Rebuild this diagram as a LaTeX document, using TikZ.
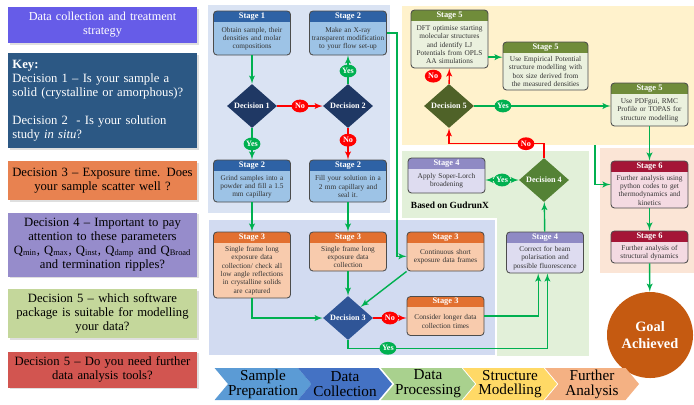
\documentclass[tikz,border=0pt]{standalone}
\usepackage{fontspec}
\setmainfont{Liberation Serif}
\usepackage{tikz}
\usetikzlibrary{positioning,arrows,calc,shapes.geometric,shapes.symbols,shadows}
\definecolor{titleblue}{RGB}{102,92,232}
\definecolor{keyblue}{RGB}{44,88,132}
\definecolor{keyorange}{RGB}{232,130,80}
\definecolor{keylav}{RGB}{150,140,203}
\definecolor{keygreen}{RGB}{196,215,155}
\definecolor{keyred}{RGB}{210,85,80}
\definecolor{panA}{RGB}{218,227,243}
\definecolor{panB}{RGB}{210,219,241}
\definecolor{panC}{RGB}{255,242,204}
\definecolor{panD}{RGB}{226,240,217}
\definecolor{panE}{RGB}{251,229,214}
\definecolor{headblue}{RGB}{46,98,165}
\definecolor{bodyblue}{RGB}{157,195,230}
\definecolor{headorange}{RGB}{226,112,48}
\definecolor{bodyorange}{RGB}{248,203,173}
\definecolor{headlav}{RGB}{143,138,196}
\definecolor{bodylav}{RGB}{222,220,240}
\definecolor{headolive}{RGB}{112,140,58}
\definecolor{bodyolive}{RGB}{235,241,222}
\definecolor{headcrimson}{RGB}{165,22,55}
\definecolor{bodypink}{RGB}{244,218,226}
\definecolor{decnavy}{RGB}{31,56,100}
\definecolor{decblue}{RGB}{47,85,151}
\definecolor{decgreen}{RGB}{84,130,53}
\definecolor{decolive}{RGB}{79,98,40}
\definecolor{goalorange}{RGB}{197,90,17}
\definecolor{arrowgreen}{RGB}{0,176,80}
\definecolor{arrowred}{RGB}{255,0,0}
\definecolor{chevA}{RGB}{91,155,213}
\definecolor{chevB}{RGB}{68,114,196}
\definecolor{chevC}{RGB}{169,209,142}
\definecolor{chevD}{RGB}{255,217,102}
\definecolor{chevE}{RGB}{244,177,131}
\tikzset{
    keybox/.style = {
        shape=rectangle,
        minimum width=4.725cm,
        text width=4.7cm,
        inner sep=0pt,
        align=center,
        font=\fontsize{9}{10}\selectfont,
        drop shadow={opacity=0.25,shadow xshift=0.04cm,shadow yshift=-0.04cm}
    },
    stagebox/.style n args={3}{
        shape=rectangle,
        draw=black!70,
        line width=0.6pt,
        rounded corners=2.5pt,
        fill=#2,
        minimum width=1.925cm,
        text width=1.85cm,
        inner xsep=0.5pt,
        inner ysep=1pt,
        align=center,
        text=black!80,
        font=\fontsize{5.2}{5.9}\selectfont,
        path picture={\path[fill=#1, sharp corners] (path picture bounding box.north west) rectangle ([yshift=-0.27cm]path picture bounding box.north east);},
        label={[anchor=north, inner sep=1.2pt, text=white, execute at begin node={}, font=\fontsize{6}{6.5}\selectfont\bfseries]north:#3},
        execute at begin node={\rule{0pt}{11.5pt}}
    },
    decision/.style = {
        shape=diamond,
        inner sep=0pt,
        minimum width=1.25cm,
        minimum height=1.1cm,
        text=white,
        font=\fontsize{5.8}{6.5}\selectfont\bfseries
    },
    yesbubble/.style = {
        shape=ellipse,
        fill=arrowgreen,
        inner sep=0pt,
        minimum width=0.42cm,
        minimum height=0.32cm,
        text=white,
        font=\fontsize{5.8}{6}\selectfont\bfseries
    },
    nobubble/.style = {
        yesbubble,
        fill=arrowred
    },
    yesline/.style = {draw=arrowgreen, line width=1pt, ->},
    noline/.style = {draw=arrowred, line width=1pt, ->},
    chevron/.style = {
        shape=signal,
        signal to=east,
        signal from=west,
        signal pointer angle=100,
        minimum width=2.35cm,
        minimum height=0.8cm,
        inner sep=0pt,
        align=center,
        font=\fontsize{10.8}{10.5}\selectfont
    },
    goalcircle/.style = {
        shape=circle,
        fill=goalorange,
        minimum size=2.15cm,
        inner sep=0pt,
        align=center,
        text=white,
        font=\fontsize{10.2}{11.5}\selectfont\bfseries
    },
    gudtext/.style = {
        inner sep=0pt,
        font=\fontsize{6.7}{7}\selectfont\bfseries
    },
    >=latex',
}

\begin{document}
\begin{tikzpicture}[x=0.025cm, y=-0.025cm]
            \useasboundingbox (0,0) rectangle (694,404);

            \path[fill=panA] (208,5) rectangle (390,213);
            \path[fill=panC] (402,6) rectangle (694,145);
            \path[fill=panD] (402,151) rectangle (589,356);
            \path[fill=panB, draw=white, line width=2pt] (208,219) rectangle (496,356);
            \path[fill=panE] (600,148) rectangle (694,273);

            \node[keybox, fill=titleblue, text=white, font=\fontsize{8.7}{10}\selectfont, minimum height=0.9cm] (title) at (102.5,25) {Data collection and treatment\\strategy};
            \node[keybox, fill=keyblue, text=white, align=left, text width=4.5cm, minimum height=2.375cm] (key) at (102.5,100.5) {\textbf{Key:}\\Decision 1 -- Is your sample a\\solid (crystalline or amorphous)?\\[10pt]Decision 2~~- Is your solution\\study \textit{in situ}?};
            \node[keybox, fill=keyorange, minimum height=0.975cm] (keyexp) at (102.5,180.5) {Decision 3 -- Exposure time. Does\\your sample scatter well ?};
            \node[keybox, fill=keylav, minimum height=1.6cm] (keyparam) at (102.5,244.5) {Decision 4 -- Important to pay\\attention to these parameters\\Q\textsubscript{min}, Q\textsubscript{max}, Q\textsubscript{inst}, Q\textsubscript{damp} and Q\textsubscript{Broad}\\and termination ripples?};
            \node[keybox, fill=keygreen, minimum height=1.225cm] (keysoft) at (102.5,313.5) {Decision 5 -- which software\\package is suitable for modelling\\your data?};
            \node[keybox, fill=keyred, minimum height=0.9cm] (keyfurther) at (102.5,369.5) {Decision 5 -- Do you need further\\data analysis tools?};

            \node[stagebox={headblue}{bodyblue}{Stage 1}, minimum height=1.1cm] (obtain) at (252,33) {Obtain sample, their\\densities and molar\\compositions};
            \node[stagebox={headblue}{bodyblue}{Stage 2}, minimum height=1.1cm] (xray) at (348,33) {Make an X-ray\\transparent modification\\to your flow set-up};
            \node[decision, fill=decnavy] (dec1) at (252,106) {Decision 1};
            \node[decision, fill=decnavy] (dec2) at (348,106) {Decision 2};
            \node[stagebox={headblue}{bodyblue}{Stage 2}, minimum height=1.05cm] (grind) at (252,181) {Grind samples into a\\powder and fill a 1.5\\mm capillary};
            \node[stagebox={headblue}{bodyblue}{Stage 2}, minimum height=1.05cm] (seal) at (348,181) {Fill your solution in a\\2 mm capillary and\\seal it.};
            \node[stagebox={headorange}{bodyorange}{Stage 3}, minimum height=1.65cm] (longsolid) at (252,265) {Single frame long\\exposure data\\collection/ check all\\low angle reflections\\in crystalline solids\\are captured};
            \node[stagebox={headorange}{bodyorange}{Stage 3}, minimum height=0.975cm] (longsol) at (348,251.5) {Single frame long\\exposure data\\collection};
            \node[stagebox={headorange}{bodyorange}{Stage 3}, minimum height=0.975cm] (contshort) at (445.5,251.5) {Continuous short\\exposure data frames};
            \node[decision, fill=decblue] (dec3) at (348,318) {Decision 3};
            \node[stagebox={headorange}{bodyorange}{Stage 3}, minimum height=0.975cm] (longer) at (445.5,316) {Consider longer data\\collection times};
            \node[stagebox={headlav}{bodylav}{Stage 4}, minimum height=1.025cm] (correct) at (545,252.5) {Correct for beam\\polarisation and\\possible fluorescence};
            \node[decision, fill=decgreen] (dec4) at (544,180) {Decision 4};
            \node[stagebox={headlav}{bodylav}{Stage 4}, minimum height=0.875cm] (soper) at (446.5,175.5) {Apply Soper-Lorch\\broadening};
            \node[gudtext] (gudrun) at (450,205) {Based on GudrunX};
            \node[stagebox={headolive}{bodyolive}{Stage 5}, minimum height=1.45cm] (dft) at (449.5,39) {DFT optimise starting\\molecular structures\\and identify LJ\\Potentials from OPLS\\AA simulations};
            \node[stagebox={headolive}{bodyolive}{Stage 5}, minimum height=1.2cm, minimum width=2.125cm, text width=2.05cm] (epsr) at (545.5,66) {Use Empirical Potential\\structure modelling with\\box size derived from\\the measured densities};
            \node[decision, fill=decolive] (dec5) at (449,106) {Decision 5};
            \node[stagebox={headolive}{bodyolive}{Stage 5}, minimum height=1.075cm] (pdfgui) at (649.5,104.5) {Use PDFgui, RMC\\Profile or TOPAS for\\structure modelling};
            \node[stagebox={headcrimson}{bodypink}{Stage 6}, minimum height=1.175cm] (python) at (649.5,184.5) {Further analysis using\\python codes to get\\thermodynamics and\\kinetics};
            \node[stagebox={headcrimson}{bodypink}{Stage 6}, minimum height=0.8cm] (dynamics) at (649.5,247) {Further analysis of\\structural dynamics};
            \node[goalcircle] (goal) at (650,335) {Goal\\Achieved};

            \node[chevron, fill=chevA] (prep) at (263,384) {Sample\\Preparation};
            \node[chevron, fill=chevB] (collect) at (345,384) {Data\\Collection};
            \node[chevron, fill=chevC] (process) at (428,384) {Data\\Processing};
            \node[chevron, fill=chevD] (model) at (510,384) {Structure\\Modelling};
            \node[chevron, fill=chevE] (analyse) at (592,384) {Further\\Analysis};

            \path[yesline] (obtain) -- (dec1);
            \path[yesline] (dec1) -- node[yesbubble] (yes1) {Yes} (grind);
            \path[noline] (dec1) -- node[nobubble] (no1) {No} (dec2);
            \path[yesline] (dec2) -- node[yesbubble, pos=0.45] (yes2) {Yes} (xray);
            \path[noline] (dec2) -- node[nobubble, pos=0.38] (no2) {No} (seal);
            \path[yesline] (grind) -- (longsolid);
            \path[yesline] (seal) -- (longsol);
            \path[yesline] (longsol) -- (dec3);
            \path[yesline] (longsolid.south) |- (dec3.west);
            \path[yesline] (xray.east) -- ++(10,0) |- (contshort.187);
            \path[yesline] (contshort.south west) -- (dec3.north east);
            \path[noline] (dec3.east) -- node[nobubble] (no3) {No} (dec3.east -| longer.west);
            \path[yesline] (dec3.south) -- ++(0,8) -| node[yesbubble, pos=0.1] (yes3) {Yes} ([xshift=0.06cm]correct.south);
            \path[yesline] (longer.east) -| ([xshift=-0.17cm]correct.south);
            \path[yesline] (correct) -- (dec4);
            \path[yesline, <->] (dec4.west) -- node[yesbubble] (yes4) {Yes} (dec4.west -| soper.east);
            \path[noline] (dec4.north) -- ++(0,-14) -| node[nobubble, pos=0.095] (no4) {No} (dec5.south);
            \path[noline] (dec5) -- node[nobubble, xshift=-0.4cm] (no5) {No} (dft);
            \path[yesline] (dec5.east) -- node[yesbubble, pos=0.21] (yes5) {Yes} (dec5.east -| pdfgui.west);
            \path[yesline] (dft.335) -- (dft.335 -| epsr.west);
            \path[yesline] (pdfgui) -- (python);
            \coordinate (branch) at (595,145);
            \path[yesline] (branch) |- (python.west);
            \path[yesline] (python) -- (dynamics);
            \path[yesline] (dynamics) -- (goal);
\end{tikzpicture}
\end{document}
